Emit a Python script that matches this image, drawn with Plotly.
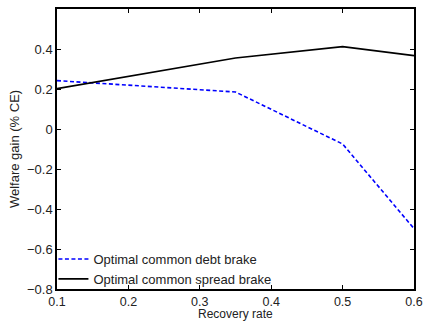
import plotly.graph_objects as go

recovery = [0.1, 0.35, 0.5, 0.6]
debt_brake = [0.242, 0.185, -0.075, -0.498]
spread_brake = [0.202, 0.355, 0.412, 0.367]

x_ticks = [0.1, 0.2, 0.3, 0.4, 0.5, 0.6]
y_ticks = [-0.8, -0.6, -0.4, -0.2, 0, 0.2, 0.4]
y_labels = ["\u22120.8", "\u22120.6", "\u22120.4", "\u22120.2", "0", "0.2", "0.4"]

fig = go.Figure()
fig.add_trace(go.Scatter(x=recovery, y=debt_brake, mode="lines",
                         name="Optimal common debt brake",
                         line=dict(color="#0000ff", width=1.6, dash="4px,2.5px")))
fig.add_trace(go.Scatter(x=recovery, y=spread_brake, mode="lines",
                         name="Optimal common spread brake",
                         line=dict(color="black", width=1.6)))

fs = 13
fig.update_layout(
    width=425, height=322,
    margin=dict(l=57, r=11, t=9, b=33),
    paper_bgcolor="white", plot_bgcolor="white",
    font=dict(family="Liberation Sans, Arial, sans-serif", size=fs, color="#222"),
    showlegend=True,
    legend=dict(x=-0.01, y=-0.018, xanchor="left", yanchor="bottom",
                bgcolor="rgba(0,0,0,0)", borderwidth=0,
                font=dict(size=fs, color="#222"),
                tracegroupgap=0, itemwidth=30),
    annotations=[dict(text="Recovery rate", x=0.5, y=0, xref="paper", yref="paper",
                      xanchor="center", yanchor="bottom", yshift=-33, showarrow=False,
                      borderpad=0, font=dict(size=12, color="#222"))],
)
fig.update_xaxes(range=[0.1, 0.6], tickvals=x_ticks, ticktext=[str(t) for t in x_ticks],
                 ticks="inside", ticklen=4, tickcolor="black", showline=True,
                 linecolor="black", linewidth=1.5, mirror="ticks", showgrid=False,
                 zeroline=False, ticklabelstandoff=0, automargin=False,
                 tickfont=dict(size=12.5))
fig.update_yaxes(range=[-0.8, 0.6], tickvals=y_ticks, ticktext=y_labels,
                 ticks="inside", ticklen=4, tickcolor="black", showline=True,
                 linecolor="black", linewidth=1.5, mirror="ticks", showgrid=False,
                 zeroline=False, automargin=False,
                 title=dict(text="Welfare gain (% CE)", standoff=4, font=dict(size=fs)),
                 tickfont=dict(size=fs))

fig.write_html("out.html")
